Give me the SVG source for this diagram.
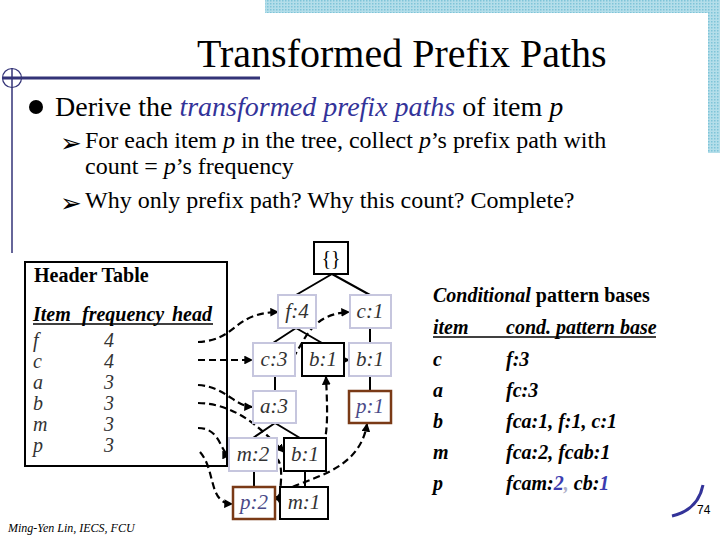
<svg xmlns="http://www.w3.org/2000/svg" width="720" height="540" viewBox="0 0 720 540">
<defs>
<pattern id="dots" width="3" height="3" patternUnits="userSpaceOnUse">
<rect width="3" height="3" fill="#b4deea"/>
<rect x="0" y="0" width="1.5" height="1.5" fill="#7fc4d8"/>
</pattern>
<marker id="arr" viewBox="0 0 8 8" refX="7" refY="4" markerWidth="4" markerHeight="4" orient="auto" markerUnits="strokeWidth">
<path d="M0,0 L8,4 L0,8 z" fill="#000"/>
</marker>
<style>
.serif{font-family:"Liberation Serif","Times New Roman",serif;}
.dash{fill:none;stroke:#000;stroke-width:2.2;stroke-dasharray:7 4;marker-end:url(#arr);}
.edge{fill:none;stroke:#000;stroke-width:2;}
.lt{fill:#fff;stroke:#c6c6de;stroke-width:2;}
.bk{fill:#fff;stroke:#000;stroke-width:2;}
.br{fill:#fff;stroke:#7a3a16;stroke-width:2.5;}
.lbl{font-family:"Liberation Serif","Times New Roman",serif;font-style:italic;font-size:21px;fill:#333;text-anchor:middle;}
.pl{fill:#4a4a88;}
.row{font-family:"Liberation Serif","Times New Roman",serif;font-style:italic;font-size:20px;fill:#333;}
.cb{font-family:"Liberation Serif","Times New Roman",serif;font-weight:bold;font-style:italic;font-size:20px;fill:#000;}
.arw{font-family:"DejaVu Sans",sans-serif;font-size:26px;fill:#000;}
</style>
</defs>
<rect width="720" height="540" fill="#fff"/>
<rect x="265" y="0" width="455" height="13" fill="url(#dots)"/>
<rect x="708" y="0" width="12" height="153" fill="url(#dots)"/>

<g id="decor">
<line x1="3" y1="78" x2="260" y2="78" stroke="#333377" stroke-width="3"/>
<line x1="12" y1="68" x2="12" y2="253" stroke="#333377" stroke-width="1.5"/>
<circle cx="12" cy="78" r="9.5" fill="none" stroke="#333377" stroke-width="1.2"/>
</g>

<text class="serif" x="197" y="67" font-size="40" fill="#000">Transformed Prefix Paths</text>

<circle cx="36" cy="107" r="7" fill="#000"/>
<text class="serif" x="55" y="116" font-size="28" fill="#000">Derive the <tspan font-style="italic" fill="#333399">transformed prefix paths</tspan> of item <tspan font-style="italic">p</tspan></text>
<text class="arw" x="60" y="152">➢</text>
<text class="serif" x="85" y="148" font-size="24" fill="#000">For each item <tspan font-style="italic">p</tspan> in the tree, collect <tspan font-style="italic">p</tspan>’s prefix path with</text>
<text class="serif" x="85" y="174" font-size="24" fill="#000">count = <tspan font-style="italic">p</tspan>’s frequency</text>
<text class="arw" x="60" y="212">➢</text>
<text class="serif" x="85" y="208" font-size="24" fill="#000">Why only prefix path? Why this count? Complete?</text>

<g id="header-table">
<rect x="25" y="262" width="202" height="204" fill="none" stroke="#000" stroke-width="2"/>
<text class="serif" x="34" y="282" font-size="20" font-weight="bold">Header Table</text>
<text class="cb" x="33" y="321">Item</text>
<text class="cb" x="82" y="321">frequency</text>
<text class="cb" x="172" y="321">head</text>
<line x1="33" y1="324" x2="213" y2="324" stroke="#000" stroke-width="1.5"/>
<text class="row" x="33" y="347">f</text><text class="row" x="104" y="347">4</text>
<text class="row" x="33" y="368">c</text><text class="row" x="104" y="368">4</text>
<text class="row" x="33" y="389">a</text><text class="row" x="104" y="389">3</text>
<text class="row" x="33" y="410">b</text><text class="row" x="104" y="410">3</text>
<text class="row" x="33" y="431">m</text><text class="row" x="104" y="431">3</text>
<text class="row" x="33" y="452">p</text><text class="row" x="104" y="452">3</text>
</g>

<g id="connectors">
<path class="edge" d="M332 274 L296 295 M332 274 L370 295 M296 328 L273 343 M296 328 L322 343 M370 328 V343 M275 376 V391 M370 376 V391 M275 423 L253 438 M275 423 L300 438 M254 471 V487 M305 471 V487"/>
<path class="dash" d="M198 342 C238 340 232 313 278 312"/>
<path class="dash" d="M198 360 L252 360"/>
<path class="dash" d="M198 385 C226 387 234 406 252 407"/>
<path class="dash" d="M198 403 C238 404 262 430 284 452"/>
<path class="dash" d="M198 428 C222 428 220 455 230 455"/>
<path class="dash" d="M200 452 C216 470 208 503 232 504"/>
<path class="dash" d="M293 358 C306 338 312 314 349 312"/>
<path class="dash" d="M344 360 L349 360"/>
<path class="dash" d="M319 455 C328 440 328 420 326 377"/>
<path class="dash" d="M276 458 C286 465 278 495 280 503"/>
<path class="dash" d="M276 500 C284 478 358 482 367 424"/>
</g>

<g id="n-root"><rect class="bk" x="314" y="242" width="34" height="32"/><text class="serif" x="331" y="265" font-size="20" text-anchor="middle">{}</text></g>
<g id="n-f4"><rect class="lt" x="278" y="295" width="38" height="33"/><text class="lbl" x="297" y="318">f:4</text></g>
<g id="n-c1"><rect class="lt" x="350" y="295" width="41" height="33"/><text class="lbl" x="370" y="318">c:1</text></g>
<g id="n-c3"><rect class="lt" x="253" y="343" width="42" height="33"/><text class="lbl" x="274" y="366">c:3</text></g>
<g id="n-b1a"><rect class="bk" x="302" y="343" width="42" height="33"/><text class="lbl" x="323" y="366">b:1</text></g>
<g id="n-b1b"><rect class="lt" x="349" y="343" width="42" height="33"/><text class="lbl" x="370" y="366">b:1</text></g>
<g id="n-a3"><rect class="lt" x="253" y="391" width="43" height="32"/><text class="lbl" x="274" y="413">a:3</text></g>
<g id="n-p1"><rect class="br" x="349" y="391" width="42" height="32"/><text class="lbl pl" x="370" y="413">p:1</text></g>
<g id="n-m2"><rect class="lt" x="229" y="438" width="48" height="33"/><text class="lbl" x="253" y="461">m:2</text></g>
<g id="n-b1c"><rect class="bk" x="284" y="438" width="42" height="33"/><text class="lbl" x="305" y="461">b:1</text></g>
<g id="n-p2"><rect class="br" x="233" y="487" width="42" height="32"/><text class="lbl pl" x="254" y="509">p:2</text></g>
<g id="n-m1"><rect class="bk" x="280" y="487" width="48" height="32"/><text class="lbl" x="304" y="509">m:1</text></g>

<g id="cond-bases">
<text class="serif" x="433" y="302" font-size="20" font-weight="bold"><tspan font-style="italic">Conditional</tspan> pattern bases</text>
<text class="cb" x="433" y="334">item</text>
<text class="cb" x="506" y="334">cond. pattern base</text>
<line x1="433" y1="337" x2="656" y2="337" stroke="#000" stroke-width="1.5"/>
<text class="cb" x="433" y="366">c</text><text class="cb" x="506" y="366">f:3</text>
<text class="cb" x="433" y="397">a</text><text class="cb" x="506" y="397">fc:3</text>
<text class="cb" x="433" y="428">b</text><text class="cb" x="506" y="428">fca:1, f:1, c:1</text>
<text class="cb" x="433" y="459">m</text><text class="cb" x="506" y="459">fca:2, fcab:1</text>
<text class="cb" x="433" y="490" fill="#2a2a80">p</text>
<text class="cb" x="506" y="490" fill="#2a2a80">fcam:<tspan fill="#3c3cb0">2</tspan><tspan fill="#b0b0c8">,</tspan> cb:<tspan fill="#3c3cb0">1</tspan></text>
</g>

<path d="M672 516 Q698 510 703 485" fill="none" stroke="#333399" stroke-width="3"/>
<text x="697" y="514" font-family="Liberation Sans,Arial,sans-serif" font-size="12" fill="#000">74</text>
<text class="serif" x="8" y="532" font-size="12" font-style="italic">Ming-Yen Lin, IECS, FCU</text>
</svg>
